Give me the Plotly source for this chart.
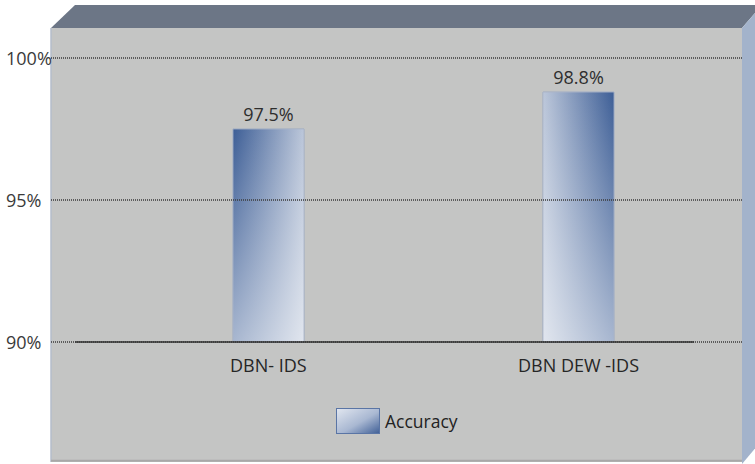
import base64
import plotly.graph_objects as go

# ---- data ----
categories = ["DBN- IDS", "DBN DEW -IDS"]
accuracy = [97.5, 98.8]
y_ticks = [90, 95, 100]
series_name = "Accuracy"

W, H = 755, 464
ML, MR, MT, MB = 51, 13, 28, 2
PW, PH = W - ML - MR, H - MT - MB

BASE = 90
BAR_W = 0.229
X_RANGE = [-0.7016, 1.5274]
Y_RANGE = [85.775, 101.056]
xs = list(range(len(categories)))
FONT = "Open Sans"


def px(xp):
    return (xp - ML) / PW


def py(yp):
    return (H - MB - yp) / PH


fig = go.Figure()

# base bars
fig.add_trace(go.Bar(
    x=xs, y=[v - BASE for v in accuracy], base=BASE, width=BAR_W,
    marker=dict(color="#9aaccb", line=dict(color="rgba(150,165,190,0.7)", width=1)),
    text=[f"{v}%" for v in accuracy], textposition="outside",
    textfont=dict(size=18, color="#2e2e2e", family=FONT),
    cliponaxis=False, showlegend=False, hoverinfo="skip",
))

# gradient shading on each bar (dark corner at the top, alternating sides)
dark, light = "#3d5e96", "#bcc7da"
for i, v in enumerate(accuracy):
    x0, x1 = xs[i] - BAR_W / 2, xs[i] + BAR_W / 2
    box_x = [x0, x1, x1, x0, x0]
    box_y = [BASE, BASE, v, v, BASE]
    left, right = (dark, light) if i == 0 else (light, dark)
    fig.add_trace(go.Scatter(
        x=box_x, y=box_y, mode="lines", fill="toself", line=dict(width=0),
        fillgradient=dict(type="horizontal", colorscale=[[0, left], [1, right]]),
        showlegend=False, hoverinfo="skip",
    ))
    fig.add_trace(go.Scatter(
        x=box_x, y=box_y, mode="lines", fill="toself",
        line=dict(width=1, color="rgba(170,180,200,0.8)"),
        fillgradient=dict(type="vertical", colorscale=[
            [0, "rgba(255,255,255,0.55)"], [1, "rgba(255,255,255,0.0)"]]),
        showlegend=False, hoverinfo="skip",
    ))

shapes = []
# top face of the box
shapes.append(dict(
    type="path", xref="paper", yref="paper", layer="below",
    path=f"M {px(51)} {py(28)} L {px(75)} {py(5)} L {px(762)} {py(5)} L {px(742)} {py(28)} Z",
    fillcolor="#6c7686", line=dict(width=0),
))
# right side face
shapes.append(dict(
    type="path", xref="paper", yref="paper", layer="below",
    path=f"M {px(742)} {py(28)} L {px(762)} {py(5)} L {px(762)} {py(440)} L {px(742)} {py(464)} Z",
    fillcolor="#a3b3cb", line=dict(width=0),
))
# wall edges
shapes.append(dict(type="line", xref="paper", yref="paper", x0=0, x1=0, y0=0, y1=1,
                   line=dict(color="#b4bccb", width=1.5)))
shapes.append(dict(type="line", xref="paper", yref="paper", x0=0, x1=1, y0=0.003, y1=0.003,
                   line=dict(color="#a8a8a8", width=2)))
# fine dotted gridlines drawn over the bars
for t in y_ticks:
    shapes.append(dict(type="line", xref="paper", yref="y", x0=0, x1=1, y0=t, y1=t,
                       layer="above", line=dict(color="#3a3a3a", width=1.4, dash="1px,1px")))
# category axis line
shapes.append(dict(type="line", xref="x", yref="y", x0=-0.624, x1=1.373, y0=BASE, y1=BASE,
                   layer="above", line=dict(color="#333333", width=1.6)))

annotations = []
# left-aligned value-axis labels
for t in y_ticks:
    annotations.append(dict(x=px(4), y=t, xref="paper", yref="y", text=f"{t}%",
                            showarrow=False, xanchor="left", yanchor="middle",
                            font=dict(size=18, color="#3a3a3a", family=FONT)))
for i, c in enumerate(categories):
    annotations.append(dict(x=xs[i], y=BASE, xref="x", yref="y", text=c, showarrow=False,
                            yanchor="top", yshift=-9,
                            font=dict(size=18, color="#262626", family=FONT)))
annotations.append(dict(x=px(383), y=py(421), xref="paper", yref="paper", text=series_name,
                        showarrow=False, xanchor="left", yanchor="middle",
                        font=dict(size=17.5, color="#222222", family=FONT)))

# legend swatch with a diagonal gradient
svg = (
    '<svg xmlns="http://www.w3.org/2000/svg" width="44" height="26">'
    '<defs><linearGradient id="g" x1="0" y1="0" x2="1" y2="1">'
    '<stop offset="0" stop-color="#e2e7f0"/><stop offset="0.55" stop-color="#a9b8d2"/>'
    '<stop offset="1" stop-color="#3f5f96"/></linearGradient></defs>'
    '<rect x="0.5" y="0.5" width="43" height="25" fill="url(#g)" stroke="#5a75a5" stroke-width="1"/>'
    '</svg>'
)
src = "data:image/svg+xml;base64," + base64.b64encode(svg.encode()).decode()
images = [dict(source=src, xref="paper", yref="paper", x=px(336), y=py(408),
               sizex=44 / PW, sizey=26 / PH, sizing="stretch",
               xanchor="left", yanchor="top", layer="above")]

fig.update_layout(
    width=W, height=H, margin=dict(l=ML, r=MR, t=MT, b=MB),
    paper_bgcolor="white", plot_bgcolor="#c4c5c4",
    showlegend=False, shapes=shapes, annotations=annotations, images=images,
    font=dict(family=FONT, color="#333333"),
    xaxis=dict(range=X_RANGE, showgrid=False, zeroline=False, showticklabels=False,
               fixedrange=True),
    yaxis=dict(range=Y_RANGE, showgrid=False, zeroline=False, showticklabels=False,
               ticks=""),
)

fig.write_html("out.html")
